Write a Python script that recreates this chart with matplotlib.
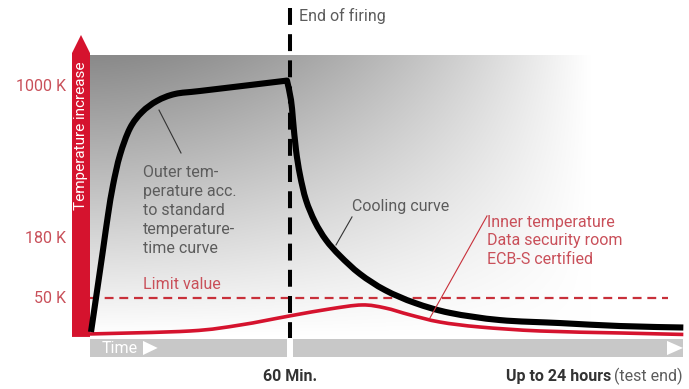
import numpy as np
import matplotlib.pyplot as plt
from matplotlib.patches import Polygon, PathPatch
from matplotlib.path import Path

plt.rcParams['font.family'] = ['Roboto', 'DejaVu Sans']

# schematic units: x = time (60 = end of firing), y = temperature level (100 = 1000 K)
outer_x = [0.3, 1.8, 3.9, 5.4, 6.9, 9.0, 12.0, 15.6, 20.1, 25.5, 33.0, 48.0, 59.1]
outer_y = [0.8, 14.5, 33.9, 48.0, 60.0, 72.2, 83.0, 89.5, 94.0, 96.8, 98.0, 100.4, 102.2]
cool_x = [59.1, 60.3, 60.9, 61.8, 63.0, 64.8, 67.5, 70.8, 75.0, 81.0, 88.5, 97.5,
          108.0, 123.0, 141.0, 159.0, 178.0]
cool_y = [102.2, 94.4, 86.3, 74.2, 64.1, 54.0, 45.2, 37.9, 31.5, 24.2, 17.7, 12.5,
          8.5, 5.6, 4.4, 3.2, 2.6]
inner_x = [0, 30, 45, 60, 72, 81.6, 88.5, 96, 105, 117, 135, 159, 178]
inner_y = [0, 1.2, 3.6, 7.3, 10.1, 11.7, 10.5, 7.7, 4.8, 2.8, 1.2, 0.4, -0.2]
limit_value = 14.5
end_of_firing = 60
y_ticks = [100, 38.7, 14.3]
y_labels = ['1000 K', '180 K', '50 K']

gray_txt = '#5c5c5c'
red_txt = '#c9505a'
red = '#d5132e'


def smooth(xs, ys):
    # catmull-rom through the points, as bezier segments
    p = np.column_stack([xs, ys])
    n = len(p)
    verts, codes = [p[0]], [Path.MOVETO]
    for i in range(n - 1):
        p0, p1, p2, p3 = p[max(i - 1, 0)], p[i], p[i + 1], p[min(i + 2, n - 1)]
        verts += [p1 + (p2 - p0) / 6, p2 - (p3 - p1) / 6, p2]
        codes += [Path.CURVE4] * 3
    return verts, codes


fig = plt.figure(figsize=(6.89, 3.89), dpi=100)
ax = fig.add_axes([0, 0, 1, 1])
ax.set_xlim(-27, 179.7)
ax.set_ylim(-22.2, 134.7)
ax.axis('off')

# gray gradient background
gx = np.linspace(0, 179.7, 400)
gy = np.linspace(-1.2, 112.5, 200)
X, Y = np.meshgrid(gx, gy)
u = np.clip(X / 150.0, 0, 1)
v = np.clip((112.5 - Y) / 113.0, 0, 1)
dark = 0.46 * (1 - u ** 1.7) * (1 - v)
img = np.dstack([1 - dark] * 3)
ax.imshow(img, extent=[0, 179.7, -1.2, 112.5], origin='lower', aspect='auto', zorder=0,
          interpolation='bilinear')

# red temperature arrow
ax.add_patch(Polygon([[-5.4, -1.2], [0, -1.2], [0, 113.3], [-2.7, 120.6], [-5.4, 113.3]],
                     closed=True, color=red, lw=0, zorder=3))
ax.text(-2.7, 79.8, 'Temperature increase', rotation=90, color='white', fontsize=11,
        ha='center', va='center', zorder=4)

# time bars
ax.fill_between([0, 59.1], -2.0, -9.3, color='#c8c8c8', lw=0, zorder=1)
ax.fill_between([60.9, 177.9], -2.0, -9.3, color='#c8c8c8', lw=0, zorder=1)
ax.add_patch(Polygon([[173.1, -2.8], [177.9, -5.65], [173.1, -8.5]], color='white', lw=0, zorder=2))
ax.add_patch(Polygon([[15.9, -2.8], [20.3, -5.65], [15.9, -8.5]], color='white', lw=0, zorder=2))
ax.text(3.5, -5.8, 'Time', color='white', fontsize=11.5, ha='left', va='center', zorder=2)

# limit value
ax.plot([0, 173.4], [limit_value, limit_value], color='#c8303a', lw=1.6,
        dashes=(4, 2.6), zorder=2)
ax.text(15.9, 19.8, 'Limit value', color=red_txt, fontsize=11.5, ha='left', va='center')

# end of firing
ax.plot([end_of_firing, end_of_firing], [131.5, -1.5], color='black', lw=2.9,
        dashes=(4.2, 2.3), dash_capstyle='butt', zorder=5)
ax.text(62.7, 128.2, 'End of firing', color=gray_txt, fontsize=11.5, ha='left', va='center')

# curves
vi, ci = smooth(inner_x, inner_y)
ax.add_patch(PathPatch(Path(vi, ci), fill=False, edgecolor=red, lw=2.6,
                       joinstyle='round', capstyle='butt', zorder=3))
vo, co = smooth(outer_x, outer_y)
vc, cc = smooth(cool_x, cool_y)
ax.add_patch(PathPatch(Path(vo + vc[1:], co + cc[1:]), fill=False, edgecolor='black', lw=4.4,
                       joinstyle='round', capstyle='butt', zorder=4))

# y labels
for yv, lab in zip(y_ticks, y_labels):
    ax.text(-7.3, yv, lab, color=red_txt, fontsize=11.5, ha='right', va='center')

# annotations
ax.text(15.9, 49.8, 'Outer tem-\nperature acc.\nto standard\ntemperature-\ntime curve',
        color=gray_txt, fontsize=11.5, ha='left', va='center', linespacing=1.33)
ax.plot([20.7, 27.3], [90.3, 73.0], color='#333333', lw=0.8, zorder=5)
ax.text(78.6, 51.6, 'Cooling curve', color=gray_txt, fontsize=11.5, ha='left', va='center')
ax.plot([78.6, 73.8], [47.2, 35.9], color='#333333', lw=0.8, zorder=5)
ax.text(119.1, 37.5, 'Inner temperature\nData security room\nECB-S certified',
        color=red_txt, fontsize=11.5, ha='left', va='center', linespacing=1.33)
ax.plot([119.1, 102.0], [47.6, 6.5], color='#c8303a', lw=0.8, zorder=5)

# bottom labels
ax.text(end_of_firing, -17.3, '60 Min.', color='#333333', fontsize=11.5, fontweight='bold',
        ha='center', va='center')
t_end = ax.text(177.9, -17.3, '(test end)', color=gray_txt, fontsize=11.5, ha='right', va='center')
fig.canvas.draw()
bb = t_end.get_window_extent().transformed(ax.transData.inverted())
ax.text(bb.x0 - 1.0, -17.3, 'Up to 24 hours', color='#333333', fontsize=11.5,
        fontweight='bold', ha='right', va='center')

fig.savefig('out.png', dpi=100)
